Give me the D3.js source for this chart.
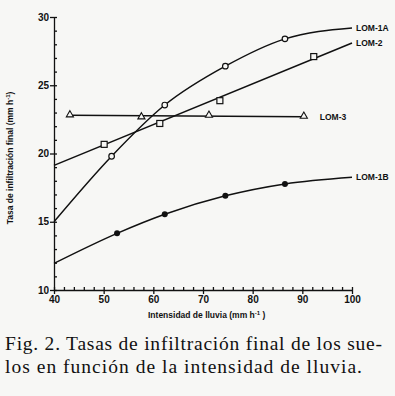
<!DOCTYPE html>
<html>
<head>
<meta charset="utf-8">
<script src="https://cdn.jsdelivr.net/npm/d3@7"></script>
<style>
  body { margin: 0; background: #f7f7f5; }
  svg { display: block; }
  .axis text { font-family: Arial, "Liberation Sans", sans-serif; font-weight: bold; font-size: 10px; fill: #111; }
  .axis path, .axis line { stroke: #111; stroke-width: 1.3; }
  .lbl { font-family: Arial, "Liberation Sans", sans-serif; font-weight: bold; font-size: 8.5px; fill: #111; }
  .caption { font-family: "Liberation Serif", "Times New Roman", serif; font-size: 19.5px; fill: #111; }
</style>
</head>
<body>
<svg width="395" height="396"></svg>
<script>
// series: [rain intensity, infiltration rate]
var lom1aMarks = [[51.6, 19.8], [62.3, 23.55], [74.5, 26.4], [86.5, 28.4]];
var lom1aEnds  = [[40, 15.0], [100, 29.2]];
var lom2Marks  = [[50.1, 20.67], [61.3, 22.2], [73.4, 23.87], [92.3, 27.1]];
var lom2Ends   = [[40, 19.13], [100, 28.1]];
var lom3Marks  = [[43.2, 22.8], [57.6, 22.65], [71.2, 22.77], [90.3, 22.7]];
var lom1bMarks = [[52.7, 14.15], [62.3, 15.55], [74.5, 16.9], [86.5, 17.77]];
var lom1bEnds  = [[40, 11.95], [100, 18.26]];

var xTicks = [40, 50, 60, 70, 80, 90, 100];
var yTicks = [10, 15, 20, 25, 30];
var captionLines = ["Fig. 2. Tasas de infiltración final de los sue-",
                    "los en función de la intensidad de lluvia."];
var captionWidths = [377, 357];

var svg = d3.select("svg");

var x = d3.scaleLinear().domain([40, 100]).range([54, 352]);
var y = d3.scaleLinear().domain([10, 30]).range([290, 17]);

// minor ticks (inside)
svg.append("g")
    .attr("class", "axis")
    .attr("transform", "translate(0,290)")
    .call(d3.axisTop(x).ticks(30).tickSize(3).tickFormat(""))
    .call(g => g.select(".domain").remove());
svg.append("g")
    .attr("class", "axis")
    .attr("transform", "translate(54,0)")
    .call(d3.axisRight(y).ticks(20).tickSize(3).tickFormat(""))
    .call(g => g.select(".domain").remove());

// major axes
svg.append("g")
    .attr("class", "axis")
    .attr("transform", "translate(0,290)")
    .call(d3.axisBottom(x).tickValues(xTicks).tickSize(4).tickSizeOuter(0).tickPadding(2));
svg.append("g")
    .attr("class", "axis")
    .attr("transform", "translate(54,0)")
    .call(d3.axisLeft(y).tickValues(yTicks).tickSize(4).tickSizeOuter(0).tickPadding(1));

var line = d3.line()
    .x(d => x(d[0]))
    .y(d => y(d[1]))
    .curve(d3.curveMonotoneX);

function drawLine(pts) {
  svg.append("path")
      .datum(pts)
      .attr("fill", "none")
      .attr("stroke", "#111")
      .attr("stroke-width", 1.5)
      .attr("d", line);
}

drawLine([lom1aEnds[0]].concat(lom1aMarks, [lom1aEnds[1]]));
drawLine(lom2Ends);
drawLine([lom3Marks[0], lom3Marks[lom3Marks.length - 1]]);
drawLine([lom1bEnds[0]].concat(lom1bMarks, [lom1bEnds[1]]));

// markers
svg.selectAll(".m1a").data(lom1aMarks).enter().append("circle")
    .attr("cx", d => x(d[0])).attr("cy", d => y(d[1])).attr("r", 2.8)
    .attr("fill", "#f7f7f5").attr("stroke", "#111").attr("stroke-width", 1.2);

svg.selectAll(".m2").data(lom2Marks).enter().append("rect")
    .attr("x", d => x(d[0]) - 3).attr("y", d => y(d[1]) - 3)
    .attr("width", 6).attr("height", 6)
    .attr("fill", "#f7f7f5").attr("stroke", "#111").attr("stroke-width", 1.2);

var tri = d3.symbol().type(d3.symbolTriangle).size(22);
svg.selectAll(".m3").data(lom3Marks).enter().append("path")
    .attr("transform", d => "translate(" + x(d[0]) + "," + (y(d[1]) - 0.5) + ")")
    .attr("d", tri)
    .attr("fill", "#f7f7f5").attr("stroke", "#111").attr("stroke-width", 1.1);

svg.selectAll(".m1b").data(lom1bMarks).enter().append("circle")
    .attr("cx", d => x(d[0])).attr("cy", d => y(d[1])).attr("r", 3)
    .attr("fill", "#111");

// series labels
svg.append("text").attr("class", "lbl").attr("x", x(100) + 4).attr("y", y(lom1aEnds[1][1]) + 3).text("LOM-1A");
svg.append("text").attr("class", "lbl").attr("x", x(100) + 4).attr("y", y(lom2Ends[1][1]) + 3).text("LOM-2");
svg.append("text").attr("class", "lbl").attr("x", x(lom3Marks[3][0]) + 16).attr("y", y(lom3Marks[3][1]) + 3).text("LOM-3");
svg.append("text").attr("class", "lbl").attr("x", x(100) + 4).attr("y", y(lom1bEnds[1][1]) + 3).text("LOM-1B");

// axis titles
svg.append("text").attr("class", "lbl")
    .attr("x", 148).attr("y", 318)
    .text("Intensidad de lluvia (mm h")
  .append("tspan").attr("dy", -3).attr("font-size", "6px").text("-1")
  .select(function() { return this.parentNode; })
  .append("tspan").attr("dy", 3).text(" )");

svg.append("text").attr("class", "lbl")
    .attr("transform", "translate(13,158) rotate(-90)")
    .attr("text-anchor", "middle")
    .text("Tasa de infiltración final (mm h")
  .append("tspan").attr("dy", -3).attr("font-size", "6px").text("-1")
  .select(function() { return this.parentNode; })
  .append("tspan").attr("dy", 3).text(")");

// caption
svg.selectAll(".caption").data(captionLines).enter().append("text")
    .attr("class", "caption")
    .attr("x", 5)
    .attr("y", (d, i) => 350 + i * 23)
    .attr("textLength", (d, i) => captionWidths[i])
    .attr("lengthAdjust", "spacing")
    .text(d => d);
</script>
</body>
</html>
